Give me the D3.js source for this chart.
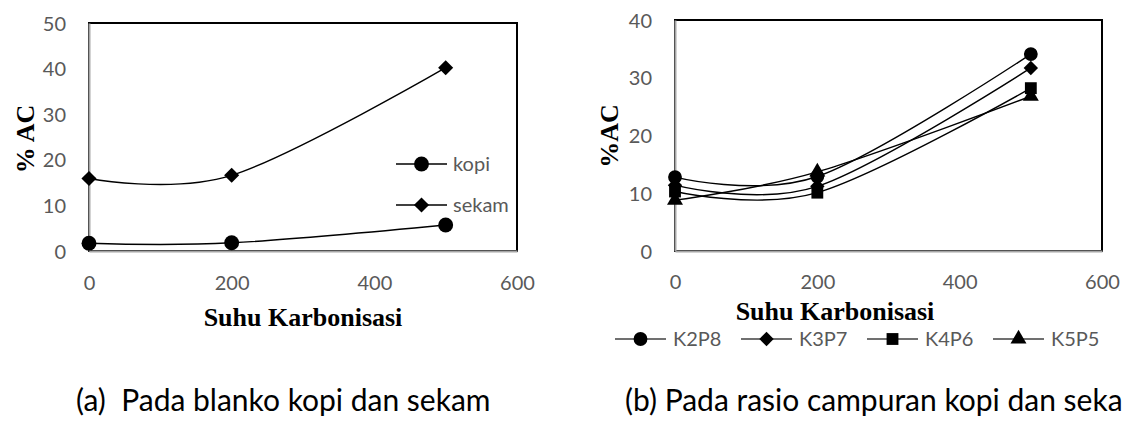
<!DOCTYPE html>
<html>
<head>
<meta charset="utf-8">
<script src="https://cdn.jsdelivr.net/npm/d3@7"></script>
<style>
	body { margin: 0; background: #fff; }
	svg { display: block; }
	.tick text { font-family: Lato, sans-serif; font-size: 20px; fill: #595959; }
	.title { font-family: 'Liberation Serif', serif; font-weight: bold; font-size: 26px; fill: #000; }
	.leg { font-family: Lato, sans-serif; font-size: 20px; fill: #595959; }
	.caption { font-family: Lato, sans-serif; font-size: 30px; fill: #000; }
</style>
</head>
<body>
<svg id="chart" width="1128" height="422"></svg>
<script>
// suhu karbonisasi
const temps = [0, 200, 500];
const xTicks = [0, 200, 400, 600];

// (a) blanko
const kopi = [1.7, 1.8, 5.7];
const sekam = [15.9, 16.6, 40.2];
const yTicksA = [0, 10, 20, 30, 40, 50];

// (b) rasio campuran
const k2p8 = [12.8, 12.9, 34.1];
const k3p7 = [11.4, 11.2, 31.7];
const k4p6 = [10.3, 10.1, 28.2];
const k5p5 = [8.8, 13.7, 26.8];
const yTicksB = [0, 10, 20, 30, 40];

const svg = d3.select('#chart');

// excel-ish markers
function marker(kind, size) {
	if (kind === 'circle') return d3.symbol(d3.symbolCircle, size)();
	if (kind === 'square') return d3.symbol(d3.symbolSquare, size)();
	if (kind === 'triangle') return d3.symbol(d3.symbolTriangle, size)();
	// diamond = rotated square
	const h = Math.sqrt(size) * 0.72;
	return `M0,${-h}L${h},0L0,${h}L${-h},0Z`;
}

function panel(cfg) {
	const g = svg.append('g');
	const x = d3.scaleLinear().domain([0, 600]).range([cfg.left, cfg.right]);
	const y = d3.scaleLinear().domain([0, cfg.yMax]).range([cfg.bottom, cfg.top]);

	// plot border: black top/right, grey axes
	g.append('rect')
		.attr('x', cfg.left).attr('y', cfg.top)
		.attr('width', cfg.right - cfg.left).attr('height', cfg.bottom - cfg.top)
		.attr('fill', 'none').attr('stroke', '#000').attr('stroke-width', 2);

	const ya = g.append('g')
		.attr('transform', `translate(${cfg.left},0)`)
		.call(d3.axisLeft(y).tickValues(cfg.yTicks).tickSize(0).tickPadding(cfg.yPad));
	ya.select('.domain').attr('stroke', '#a6a6a6').attr('stroke-width', 2);
	ya.selectAll('.tick text').attr('dy', '0.35em');

	const xa = g.append('g')
		.attr('transform', `translate(0,${cfg.bottom})`)
		.call(d3.axisBottom(x).tickValues(xTicks).tickSize(0).tickPadding(cfg.xPad));
	xa.select('.domain').attr('stroke', '#a6a6a6').attr('stroke-width', 2);

	const line = d3.line()
		.x((d, i) => x(temps[i]))
		.y((d) => y(d))
		.curve(d3.curveCardinal.tension(0));

	cfg.series.forEach((s) => {
		g.append('path')
			.attr('d', line(s.values))
			.attr('fill', 'none').attr('stroke', '#000').attr('stroke-width', 1.4);
	});
	cfg.series.forEach((s) => {
		g.selectAll(null)
			.data(s.values)
			.enter()
			.append('path')
			.attr('d', marker(s.kind, s.size))
			.attr('transform', (d, i) => `translate(${x(temps[i])},${y(d)})`)
			.attr('fill', '#000');
	});

	// axis titles
	g.append('text')
		.attr('class', 'title')
		.attr('text-anchor', 'middle')
		.attr('x', cfg.xTitleX)
		.attr('y', cfg.xTitleY)
		.text('Suhu Karbonisasi');
	g.append('text')
		.attr('class', 'title')
		.attr('text-anchor', 'middle')
		.attr('transform', `translate(${cfg.yTitleX},${cfg.yTitleY}) rotate(-90)`)
		.text(cfg.yTitle);

	return g;
}

const gA = panel({
	left: 89, right: 517, top: 23, bottom: 251,
	yMax: 50, yTicks: yTicksA, yPad: 23, xPad: 25,
	xTitleX: 303, xTitleY: 326, yTitleX: 34, yTitleY: 139, yTitle: '% AC',
	series: [
		{ name: 'kopi', values: kopi, kind: 'circle', size: 175 },
		{ name: 'sekam', values: sekam, kind: 'diamond', size: 110 }
	]
});

const gB = panel({
	left: 675, right: 1102, top: 20, bottom: 251,
	yMax: 40, yTicks: yTicksB, yPad: 23, xPad: 24,
	xTitleX: 835, xTitleY: 320, yTitleX: 618, yTitleY: 136, yTitle: '%AC',
	series: [
		{ name: 'K2P8', values: k2p8, kind: 'circle', size: 150 },
		{ name: 'K3P7', values: k3p7, kind: 'diamond', size: 100 },
		{ name: 'K4P6', values: k4p6, kind: 'square', size: 140 },
		{ name: 'K5P5', values: k5p5, kind: 'triangle', size: 110 }
	]
});

// legend (a): inside plot
const legA = [
	{ name: 'kopi', kind: 'circle', size: 175 },
	{ name: 'sekam', kind: 'diamond', size: 110 }
];
const la = gA.selectAll('.legA').data(legA).enter().append('g')
	.attr('transform', (d, i) => `translate(396,${164 + i * 41})`);
la.append('line').attr('x1', 0).attr('x2', 51).attr('stroke', '#000').attr('stroke-width', 1.4);
la.append('path').attr('d', (d) => marker(d.kind, d.size)).attr('transform', 'translate(25.5,0)');
la.append('text').attr('class', 'leg').attr('x', 57).attr('dy', '0.35em').text((d) => d.name);

// legend (b): below
const legB = [
	{ name: 'K2P8', kind: 'circle', size: 150 },
	{ name: 'K3P7', kind: 'diamond', size: 100 },
	{ name: 'K4P6', kind: 'square', size: 140 },
	{ name: 'K5P5', kind: 'triangle', size: 110 }
];
const lb = gB.selectAll('.legB').data(legB).enter().append('g')
	.attr('transform', (d, i) => `translate(${615 + i * 126},339)`);
lb.append('line').attr('x1', 0).attr('x2', 51).attr('stroke', '#404040').attr('stroke-width', 1.4);
lb.append('path').attr('d', (d) => marker(d.kind, d.size)).attr('transform', 'translate(25.5,0)');
lb.append('text').attr('class', 'leg').attr('x', 58).attr('dy', '0.35em').text((d) => d.name);

// captions
svg.append('text').attr('class', 'caption').attr('x', 76).attr('y', 411)
	.attr('xml:space', 'preserve').style('white-space', 'pre')
	.text('(a)  Pada blanko kopi dan sekam');
svg.append('text').attr('class', 'caption').attr('x', 625).attr('y', 411)
	.text('(b) Pada rasio campuran kopi dan seka');
</script>
</body>
</html>
